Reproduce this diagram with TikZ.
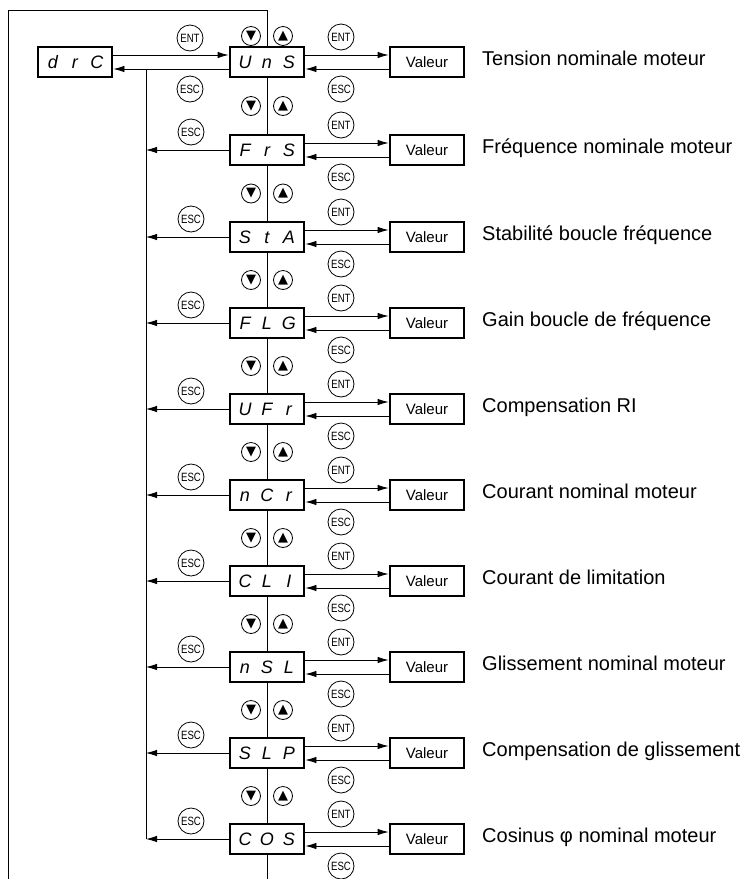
\documentclass[tikz,border=0pt]{standalone}
\usepackage{fontspec}
\usepackage{graphicx}
\setmainfont{Liberation Sans}
\newfontfamily\symf{DejaVu Sans}
\usetikzlibrary{arrows.meta}
\newcommand\segtxt[3]{\makebox[22pt]{#1}\makebox[22pt]{#2}\makebox[22pt]{#3}}
\newcommand\btntxt[1]{\scalebox{0.8}[1]{#1}}
\begin{document}
\begin{tikzpicture}[x=1pt,y=-1pt,
  disp/.style={draw,line width=2.8pt,fill=white,minimum width=74pt,minimum height=30pt,inner sep=0pt,font=\fontsize{18}{18}\selectfont\itshape},
  val/.style={draw,line width=2.8pt,fill=white,minimum width=74pt,minimum height=30pt,inner sep=0pt,font=\fontsize{15}{15}\selectfont},
  btn/.style={draw,circle,line width=0.8pt,fill=white,minimum size=26pt,inner sep=0pt,font=\fontsize{12}{12}\selectfont},
  nav/.style={draw,circle,line width=0.8pt,fill=white,minimum size=19pt,inner sep=0pt,font=\symf\fontsize{13}{13}\selectfont},
  lbl/.style={anchor=base west,font=\fontsize{20}{20}\selectfont,inner sep=0pt},
  ln/.style={line width=0.8pt},
  arr/.style={line width=0.8pt,-{Latex[length=11pt,width=6.5pt]}},
]
\useasboundingbox (0,0) rectangle (743,879);
% frame coordinates
\coordinate (fbl) at (8,879);
\coordinate (ftl) at (8,10);
\coordinate (ftr) at (267,10);
\coordinate (mbot) at (267,879);
% drC box
\node[disp] (drc) at (75,62) {\segtxt{d}{r}{C}};
% rows
\foreach \i/\y/\a/\b/\c/\lab in {
0/62/U/n/S/Tension nominale moteur,
1/150/F/r/S/Fréquence nominale moteur,
2/237/S/t/A/Stabilité boucle fréquence,
3/323/F/L/G/Gain boucle de fréquence,
4/409/U/F/r/Compensation RI,
5/495/n/C/r/Courant nominal moteur,
6/581/C/L/I/Courant de limitation,
7/667/n/S/L/Glissement nominal moteur,
8/753/S/L/P/Compensation de glissement,
9/839/C/O/S/Cosinus φ nominal moteur}
{
  \node[disp] (d\i) at (267,\y) {\segtxt{\a}{\b}{\c}};
  \node[val] (v\i) at (427,\y) {Valeur};
  \node[lbl] (t\i) at (482,\y+3) {\lab};
  \node[btn] (ent\i) at (341,\y-25) {\btntxt{ENT}};
  \node[btn] (esc\i) at (341,\y+27) {\btntxt{ESC}};
  \draw[arr] ([yshift=7pt]d\i.east) -- ([yshift=7pt]v\i.west);
  \draw[arr] ([yshift=-7pt]v\i.west) -- ([yshift=-7pt]d\i.east);
  \coordinate (e\i) at (146,\y);
}
% left ESC buttons and arrows for rows 1..9
\foreach \i/\y in {1/150,2/237,3/323,4/409,5/495,6/581,7/667,8/753,9/839}{
  \node[btn] (lesc\i) at (191,\y-18) {\btntxt{ESC}};
  \draw[arr] (d\i.west) -- (e\i);
}
% row 0 left side
\node[btn] (lent0) at (190,38) {\btntxt{ENT}};
\node[btn] (lesc0) at (190,89) {\btntxt{ESC}};
\draw[arr] ([yshift=7pt]drc.east) -- ([yshift=7pt]d0.west);
\draw[arr] ([yshift=-7pt]d0.west) -- ([yshift=-7pt]drc.east);
\coordinate (j0) at (146,69);
\draw[ln] (j0) -- (e9);
% navigation buttons
\foreach \k/\y in {0/36,1/106,2/193.5,3/280,4/366,5/452,6/538,7/624,8/710,9/796}{
  \node[nav] (dn\k) at (251,\y) {▼};
  \node[nav] (up\k) at (283,\y) {▲};
}
% main vertical line and frame
\draw[ln] (fbl) -- (ftl) -- (ftr) -- (d0.north);
\foreach \i [evaluate=\i as \j using int(\i+1)] in {0,...,8}{
  \draw[ln] (d\i.south) -- (d\j.north);
}
\draw[ln] (d9.south) -- (mbot);
\end{tikzpicture}
\end{document}
